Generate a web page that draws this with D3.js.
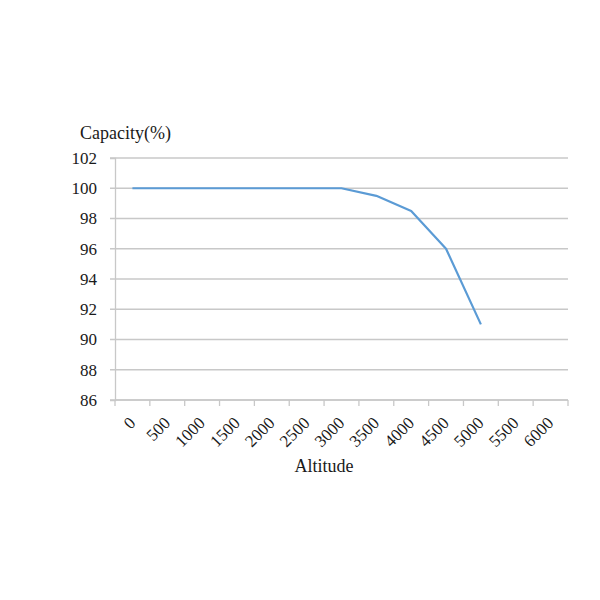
<!DOCTYPE html>
<html>
<head>
    <script src="https://d3js.org/d3.v7.min.js"></script>
    <style>
        body {margin: 0; background: #fff; font-family: "Liberation Serif", "Times New Roman", serif;}
        .grid line {stroke: #c8c8c8; stroke-width: 1.3px;}
        .axis text {font-family: "Liberation Serif", "Times New Roman", serif; font-size: 17px; fill: #1a1a1a;}
    </style>
</head>
<body>
    <svg width="600" height="600"></svg>
    <script>
        // Altitude categories and capacity values
        let altitudes = ["0", "500", "1000", "1500", "2000", "2500", "3000", "3500", "4000", "4500", "5000", "5500", "6000"];
        let capacity = [100, 100, 100, 100, 100, 100, 100, 99.5, 98.5, 96, 91];
        let yTicks = [86, 88, 90, 92, 94, 96, 98, 100, 102];

        let svg = d3.select("svg");
        let plotLeft = 115, plotRight = 568, plotTop = 158, plotBottom = 400;

        let x = d3.scaleBand().domain(altitudes).range([plotLeft, plotRight]);
        let y = d3.scaleLinear().domain([86, 102]).range([plotBottom, plotTop]);

        // horizontal gridlines
        svg.append("g").attr("class", "grid")
            .selectAll("line")
            .data(yTicks)
            .enter().append("line")
            .attr("x1", plotLeft - 5)
            .attr("x2", plotRight)
            .attr("y1", d => y(d))
            .attr("y2", d => y(d));

        // y axis
        let yAxis = svg.append("g").attr("class", "axis")
            .attr("transform", "translate(" + plotLeft + ",0)")
            .call(d3.axisLeft(y).tickValues(yTicks).tickSize(5).tickPadding(13));
        yAxis.select(".domain").attr("stroke", "#c8c8c8").attr("stroke-width", 1.3);
        yAxis.selectAll(".tick line").remove();

        // x axis: ticks sit between categories
        let xAxis = svg.append("g").attr("class", "axis")
            .attr("transform", "translate(0," + plotBottom + ")");
        xAxis.append("line")
            .attr("x1", plotLeft).attr("x2", plotRight)
            .attr("stroke", "#c8c8c8").attr("stroke-width", 1.3);
        let bounds = altitudes.map(d => x(d)).concat([plotRight]);
        xAxis.selectAll(".xt")
            .data(bounds)
            .enter().append("line")
            .attr("x1", d => d).attr("x2", d => d)
            .attr("y1", 0).attr("y2", 6)
            .attr("stroke", "#c8c8c8").attr("stroke-width", 1.3);
        xAxis.selectAll("text")
            .data(altitudes)
            .enter().append("text")
            .attr("text-anchor", "end")
            .attr("transform", d => "translate(" + (x(d) + x.bandwidth() / 2 + 4) + ",24) rotate(-45)")
            .text(d => d);

        // capacity line
        let line = d3.line()
            .x((d, i) => x(altitudes[i]) + x.bandwidth() / 2)
            .y(d => y(d));
        svg.append("path")
            .datum(capacity)
            .attr("fill", "none")
            .attr("stroke", "#5b9bd5")
            .attr("stroke-width", 2.2)
            .attr("stroke-linejoin", "round")
            .attr("d", line);

        // axis titles
        svg.append("text")
            .attr("x", 80).attr("y", 139)
            .attr("font-size", 18)
            .attr("fill", "#1a1a1a")
            .text("Capacity(%)");
        svg.append("text")
            .attr("x", 324).attr("y", 472)
            .attr("text-anchor", "middle")
            .attr("font-size", 18)
            .attr("fill", "#1a1a1a")
            .text("Altitude");
    </script>
</body>
</html>
